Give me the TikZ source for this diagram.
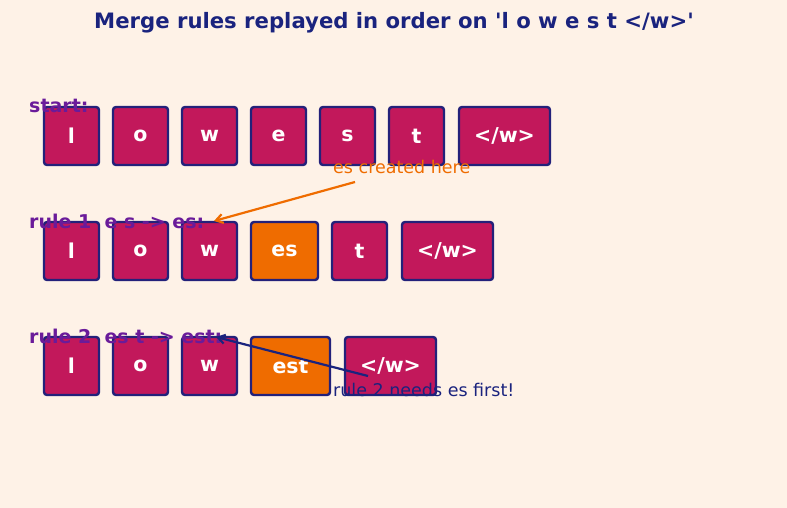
\documentclass[tikz,border=0pt]{standalone}
\usepackage{fontspec}
\setmainfont{DejaVu Sans}[Ligatures=TeXOff]
\usetikzlibrary{arrows.meta}
\definecolor{bg}{HTML}{FEF2E7}
\definecolor{tok}{HTML}{C2185B}
\definecolor{edge}{HTML}{23217A}
\definecolor{merged}{HTML}{EF6C00}
\definecolor{navy}{HTML}{1A237E}
\definecolor{purp}{HTML}{6A1B9A}
\tikzset{
  tokbox/.style={draw=edge, line width=2.4pt, rounded corners=3pt, fill=tok,
    minimum height=58pt, text=white, inner sep=0pt,
    font=\fontsize{20.5}{24}\selectfont\bfseries},
  mergedbox/.style={tokbox, fill=merged},
  rowlabel/.style={anchor=west, text=purp, inner sep=0pt,
    font=\fontsize{19}{22}\selectfont\bfseries},
  note/.style={anchor=west, inner sep=0pt, font=\fontsize{17.5}{20}\selectfont},
  arr/.style={line width=2.2pt, -{Straight Barb[length=7pt,width=9pt]}}
}
\begin{document}
\begin{tikzpicture}[x=1pt,y=-1pt]
\fill[bg] (0,0) rectangle (787,508);
\useasboundingbox (0,0) rectangle (787,508);
\node[text=navy, font=\fontsize{21.2}{25}\selectfont\bfseries] (title) at (394,23) {Merge rules replayed in order on 'l o w e s t </w>'};
% row 1
\node[tokbox, minimum width=55pt] (a1) at (71.5,136) {l};
\node[tokbox, minimum width=55pt] (a2) at (140.5,136) {o};
\node[tokbox, minimum width=55pt] (a3) at (209.5,136) {w};
\node[tokbox, minimum width=55pt] (a4) at (278.5,136) {e};
\node[tokbox, minimum width=55pt] (a5) at (347.5,136) {s};
\node[tokbox, minimum width=55pt] (a6) at (416.5,136) {t};
\node[tokbox, minimum width=91pt] (a7) at (504.5,136) {</w>};
% row 2
\node[tokbox, minimum width=55pt] (b1) at (71.5,251) {l};
\node[tokbox, minimum width=55pt] (b2) at (140.5,251) {o};
\node[tokbox, minimum width=55pt] (b3) at (209.5,251) {w};
\node[mergedbox, minimum width=67pt] (b4) at (284.5,251) {es};
\node[tokbox, minimum width=55pt] (b5) at (359.5,251) {t};
\node[tokbox, minimum width=91pt] (b6) at (447.5,251) {</w>};
% row 3
\node[tokbox, minimum width=55pt] (c1) at (71.5,366) {l};
\node[tokbox, minimum width=55pt] (c2) at (140.5,366) {o};
\node[tokbox, minimum width=55pt] (c3) at (209.5,366) {w};
\node[mergedbox, minimum width=79pt] (c4) at (290.5,366) {est};
\node[tokbox, minimum width=91pt] (c5) at (390.5,366) {</w>};
% labels
\node[rowlabel] (l1) at (29,106) {start:};
\node[rowlabel] (l2) at (29,221) {rule 1\ \ e s -> es:};
\node[rowlabel] (l3) at (29,336) {rule 2\ \ es t -> est:};
% annotations
\node[note, text=merged] (n1) at (333,167) {es created here};
\coordinate (n1s) at (355,182);
\coordinate (n1e) at (214,221);
\draw[arr, draw=merged] (n1s) -- (n1e);
\node[note, text=navy] (n2) at (333,390) {rule 2 needs es first!};
\coordinate (n2s) at (368,376);
\coordinate (n2e) at (216,337);
\draw[arr, draw=navy] (n2s) -- (n2e);
\end{tikzpicture}
\end{document}
